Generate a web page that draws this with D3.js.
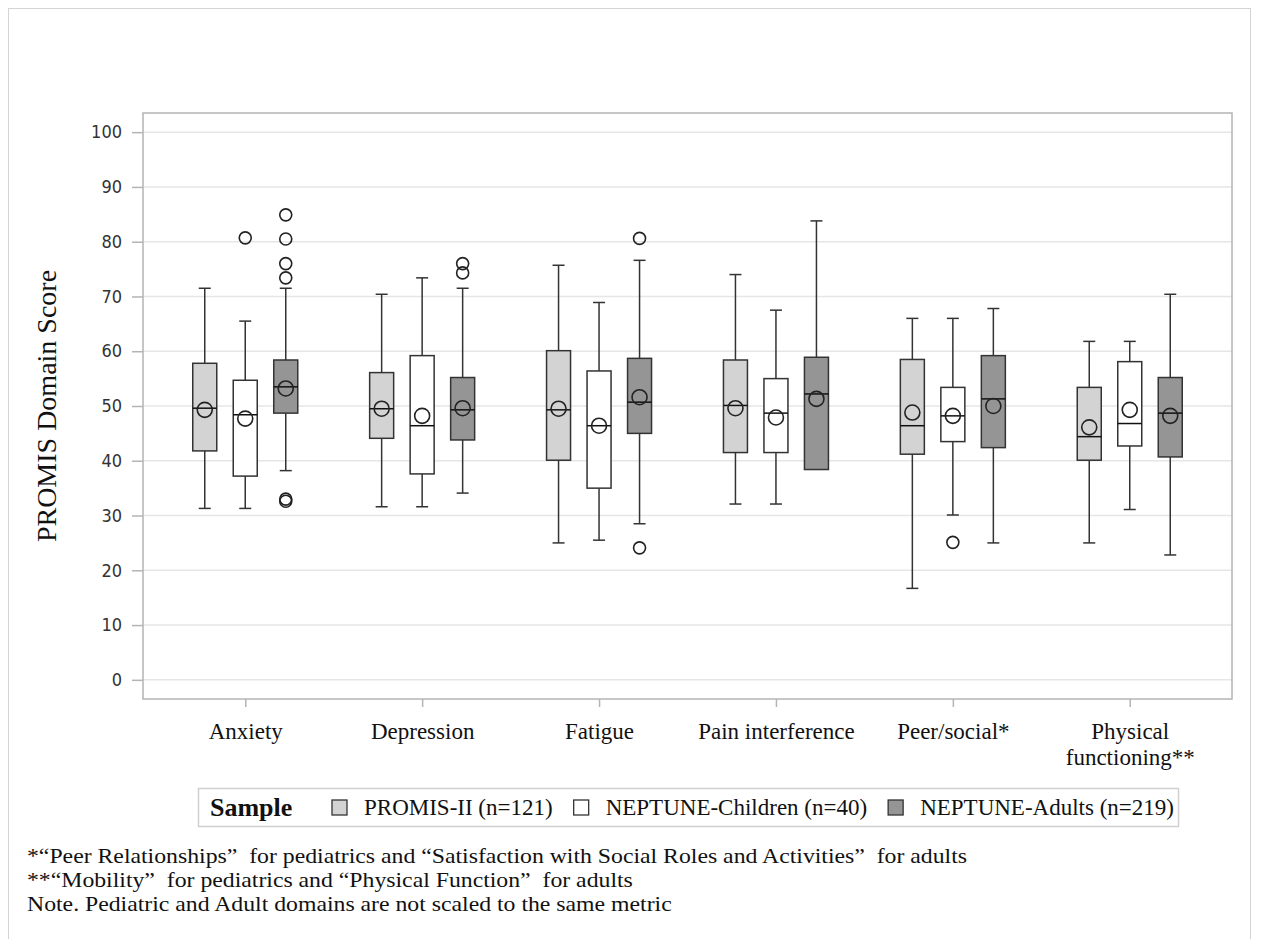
<!DOCTYPE html>
<html>
<head>
<meta charset="utf-8">
<title>PROMIS domain scores by sample</title>
<style>
    body { margin: 0; background: #fff; }
    svg { display: block; }

    .grid line { stroke: #e6e6e6; stroke-width: 1.5px; }
    .axis path { display: none; }
    .axis line { stroke: #b4b4b4; stroke-width: 1.5px; }
    .axis--y text {
        font: 18px "Liberation Sans Narrow", "DejaVu Sans Condensed", sans-serif;
        fill: #333;
    }
    .serif { font-family: "Liberation Serif", "Times New Roman", serif; fill: #111; }
    .frame { fill: none; stroke: #b4b4b4; stroke-width: 1.5px; }
    .box rect { stroke: #333; stroke-width: 1.5px; }
    .box line { stroke: #333; stroke-width: 1.5px; }
    .box .median { stroke: #111; }
    .mean, .outlier { fill: none; stroke: #222; stroke-width: 1.6px; }
    .note { white-space: pre; }
</style>
</head>
<body>
<svg></svg>
<script src="https://cdn.jsdelivr.net/npm/d3@7"></script>
<script>

    // ---- data ----
    var categories = ["Anxiety", "Depression", "Fatigue", "Pain interference", "Peer/social*", "Physical functioning**"];
    var tickLabels = [["Anxiety"], ["Depression"], ["Fatigue"], ["Pain interference"], ["Peer/social*"], ["Physical", "functioning**"]];
    var yTicks = [0, 10, 20, 30, 40, 50, 60, 70, 80, 90, 100];

    var samples = ["PROMIS-II (n=121)", "NEPTUNE-Children (n=40)", "NEPTUNE-Adults (n=219)"];
    var sampleFill = ["#d3d3d3", "#ffffff", "#959595"];

    // per category: [lower whisker, Q1, median, Q3, upper whisker, mean]
    var promisII = [
        [31.3, 41.8, 49.6, 57.8, 71.5, 49.3],
        [31.6, 44.1, 49.5, 56.1, 70.4, 49.5],
        [25.0, 40.1, 49.3, 60.1, 75.7, 49.5],
        [32.1, 41.5, 50.1, 58.4, 74.0, 49.6],
        [16.7, 41.2, 46.4, 58.5, 66.0, 48.8],
        [25.0, 40.1, 44.4, 53.4, 61.8, 46.1]
    ];
    var neptuneChildren = [
        [31.3, 37.2, 48.4, 54.7, 65.5, 47.7],
        [31.6, 37.6, 46.4, 59.2, 73.4, 48.2],
        [25.5, 35.0, 46.4, 56.4, 68.9, 46.4],
        [32.1, 41.5, 48.7, 55.0, 67.5, 47.9],
        [30.1, 43.5, 48.2, 53.4, 66.0, 48.2],
        [31.1, 42.7, 46.8, 58.1, 61.8, 49.3]
    ];
    var neptuneAdults = [
        [38.2, 48.7, 53.5, 58.4, 71.5, 53.2],
        [34.1, 43.8, 49.3, 55.2, 71.5, 49.6],
        [28.5, 45.0, 50.7, 58.7, 76.6, 51.6],
        [38.4, 38.4, 52.2, 58.9, 83.8, 51.3],
        [25.0, 42.4, 51.3, 59.2, 67.8, 50.0],
        [22.8, 40.7, 48.7, 55.2, 70.4, 48.2]
    ];

    var promisOutliers = [[], [], [], [], [], []];
    var childrenOutliers = [[80.7], [], [], [], [25.1], []];
    var adultsOutliers = [[84.9, 80.5, 76.0, 73.4, 33.0, 32.6], [76.0, 74.3], [80.6, 24.1], [], [], []];

    var footnotes = [
        "*\u201cPeer Relationships\u201d  for pediatrics and \u201cSatisfaction with Social Roles and Activities\u201d  for adults",
        "**\u201cMobility\u201d  for pediatrics and \u201cPhysical Function\u201d  for adults",
        "Note. Pediatric and Adult domains are not scaled to the same metric"
    ];

    var stats = [promisII, neptuneChildren, neptuneAdults];
    var outliers = [promisOutliers, childrenOutliers, adultsOutliers];

    // ---- layout ----
    var W = 1263, H = 939;
    var svg = d3.select("svg").attr("width", W).attr("height", H);

    svg.append("rect")
        .attr("x", 8.5).attr("y", 8.5)
        .attr("width", 1242).attr("height", 1000)
        .attr("fill", "none").attr("stroke", "#d4d4d4");

    var plot = {left: 143, right: 1232, top: 113, bottom: 699};

    var x = d3.scalePoint()
        .domain(categories)
        .range([plot.left, plot.right])
        .padding(0.578);

    var offset = d3.scalePoint()
        .domain(samples)
        .range([-40.5, 40.5]);

    var y = d3.scaleLinear()
        .domain([-3.5, 103.5])
        .range([plot.bottom, plot.top]);

    var boxW = 24, capW = 12;

    // grid
    svg.append("g").attr("class", "grid")
        .selectAll("line").data(yTicks).enter().append("line")
        .attr("x1", plot.left).attr("x2", plot.right)
        .attr("y1", function (d) { return y(d); })
        .attr("y2", function (d) { return y(d); });

    // y axis
    svg.append("g")
        .attr("class", "axis axis--y")
        .attr("transform", "translate(" + plot.left + ",0)")
        .call(d3.axisLeft(y).tickValues(yTicks).tickSize(11).tickPadding(10));

    // x axis
    var xAxis = svg.append("g")
        .attr("class", "axis axis--x")
        .attr("transform", "translate(0," + plot.bottom + ")")
        .call(d3.axisBottom(x).tickSize(8).tickFormat(""));

    xAxis.selectAll(".tick").each(function (d, i) {
        var t = d3.select(this).append("text")
            .attr("class", "serif")
            .attr("text-anchor", "middle")
            .style("font-size", "23px")
            .attr("fill", "#111");
        tickLabels[i].forEach(function (line, j) {
            t.append("tspan").attr("x", 0).attr("y", 40 + j * 26).text(line);
        });
    });

    // frame
    svg.append("rect").attr("class", "frame")
        .attr("x", plot.left).attr("y", plot.top)
        .attr("width", plot.right - plot.left)
        .attr("height", plot.bottom - plot.top);

    // boxes
    samples.forEach(function (s, k) {
        var g = svg.append("g").attr("class", "box");
        categories.forEach(function (c, i) {
            var d = stats[k][i];
            var cx = x(c) + offset(s);

            // whiskers
            g.append("line").attr("x1", cx).attr("x2", cx).attr("y1", y(d[0])).attr("y2", y(d[1]));
            g.append("line").attr("x1", cx).attr("x2", cx).attr("y1", y(d[3])).attr("y2", y(d[4]));
            if (d[0] < d[1]) {
                g.append("line").attr("x1", cx - capW / 2).attr("x2", cx + capW / 2).attr("y1", y(d[0])).attr("y2", y(d[0]));
            }
            g.append("line").attr("x1", cx - capW / 2).attr("x2", cx + capW / 2).attr("y1", y(d[4])).attr("y2", y(d[4]));

            g.append("rect")
                .attr("x", cx - boxW / 2).attr("width", boxW)
                .attr("y", y(d[3])).attr("height", y(d[1]) - y(d[3]))
                .attr("fill", sampleFill[k]);

            g.append("line").attr("class", "median")
                .attr("x1", cx - boxW / 2).attr("x2", cx + boxW / 2)
                .attr("y1", y(d[2])).attr("y2", y(d[2]));

            g.append("circle").attr("class", "mean")
                .attr("cx", cx).attr("cy", y(d[5])).attr("r", 7.5);

            outliers[k][i].forEach(function (v) {
                g.append("circle").attr("class", "outlier")
                    .attr("cx", cx).attr("cy", y(v)).attr("r", 6);
            });
        });
    });

    // y title
    svg.append("text")
        .attr("class", "serif")
        .attr("transform", "translate(56," + y(50) + ") rotate(-90)")
        .attr("text-anchor", "middle")
        .style("font-size", "28px")
        .text("PROMIS Domain Score");

    // legend
    var legend = svg.append("g");
    legend.append("rect")
        .attr("x", 198.5).attr("y", 788.5)
        .attr("width", 980).attr("height", 38)
        .attr("fill", "none").attr("stroke", "#d0d0d0").attr("stroke-width", 1.5);

    legend.append("text")
        .attr("class", "serif")
        .attr("x", 210).attr("y", 816)
        .style("font-size", "26px").style("font-weight", "bold")
        .text("Sample");

    var lx = 332;
    samples.forEach(function (s, k) {
        legend.append("rect")
            .attr("x", lx).attr("y", 800)
            .attr("width", 15).attr("height", 15)
            .attr("fill", sampleFill[k]).attr("stroke", "#333").attr("stroke-width", 1.3);
        var t = legend.append("text")
            .attr("class", "serif")
            .attr("x", lx + 32).attr("y", 815)
            .style("font-size", "23px")
            .text(s);
        lx += 32 + t.node().getComputedTextLength() + 21;
    });

    // footnotes (the original type is set a little wide)
    svg.append("g")
        .attr("transform", "translate(27,0) scale(1.08,1)")
        .selectAll("text").data(footnotes).enter().append("text")
        .attr("class", "serif note")
        .attr("x", 0)
        .attr("y", function (d, i) { return 863 + i * 24; })
        .style("font-size", "22px")
        .text(function (d) { return d; });

</script>
</body>
</html>
